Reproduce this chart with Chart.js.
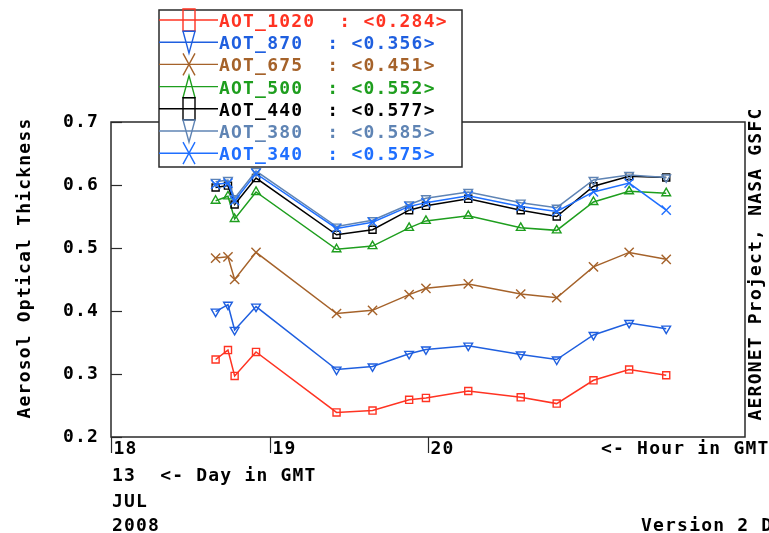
<!DOCTYPE html>
<html>
<head>
<meta charset="utf-8">
<script src="https://cdn.jsdelivr.net/npm/chart.js@4/dist/chart.umd.min.js"></script>
<style>
  html, body { margin: 0; padding: 0; background: #fff; }
  canvas { display: block; }
</style>
</head>
<body>
<canvas id="aot" width="769" height="533"></canvas>
<script>
// Observation times (hour of day, GMT) on 13 July 2008
const hours = [18.660, 18.738, 18.780, 18.915, 19.423, 19.650, 19.881, 19.987, 20.254, 20.585, 20.812, 21.044, 21.269, 21.503];

// Aerosol optical thickness per channel
const aot1020 = [0.323, 0.338, 0.297, 0.335, 0.239, 0.242, 0.259, 0.262, 0.273, 0.263, 0.253, 0.290, 0.307, 0.298];
const aot870  = [0.399, 0.410, 0.370, 0.407, 0.307, 0.312, 0.332, 0.339, 0.345, 0.331, 0.323, 0.362, 0.381, 0.372];
const aot675  = [0.484, 0.486, 0.450, 0.493, 0.396, 0.401, 0.426, 0.436, 0.443, 0.427, 0.421, 0.470, 0.493, 0.482];
const aot500  = [0.575, 0.582, 0.546, 0.589, 0.498, 0.503, 0.532, 0.543, 0.551, 0.532, 0.528, 0.573, 0.590, 0.587];
const aot440  = [0.596, 0.599, 0.569, 0.611, 0.521, 0.529, 0.560, 0.567, 0.578, 0.560, 0.550, 0.598, 0.614, 0.612];
const aot380  = [0.605, 0.608, 0.579, 0.622, 0.534, 0.544, 0.569, 0.579, 0.589, 0.572, 0.564, 0.608, 0.616, 0.612];
const aot340  = [0.601, 0.603, 0.575, 0.618, 0.531, 0.541, 0.566, 0.572, 0.583, 0.566, 0.558, 0.589, 0.603, 0.560];

const seriesNames = ['AOT_1020', 'AOT_870', 'AOT_675', 'AOT_500', 'AOT_440', 'AOT_380', 'AOT_340'];
const seriesValues = [aot1020, aot870, aot675, aot500, aot440, aot380, aot340];
// Daily means printed in the legend
const seriesMeans = ['0.284', '0.356', '0.451', '0.552', '0.577', '0.585', '0.575'];

// Axis ticks
const hourTicks = [18, 19, 20];
const aotTicks = [0.2, 0.3, 0.4, 0.5, 0.6, 0.7];
const dayLabel = '13';
const monthLabel = 'JUL';
const yearLabel = '2008';

// Appearance of each series
const seriesColors = ['#ff3322', '#1f5fdf', '#a5622a', '#1e9e1e', '#000000', '#5f84b4', '#1f6fff'];
const seriesMarkers = ['rect', 'triangle', 'crossRot', 'triangle', 'rect', 'triangle', 'crossRot'];
const markerRotation = [0, 180, 0, 0, 0, 180, 0];
const markerRadius = [5, 5, 6.5, 5, 5, 5, 6.5];

const FONT = 'bold 18px "DejaVu Sans Mono", "Liberation Mono", monospace';
const SPACING = '1.2px';

const datasets = seriesNames.map((name, i) => ({
  label: name,
  data: hours.map((h, k) => ({ x: h, y: seriesValues[i][k] })),
  borderColor: seriesColors[i],
  backgroundColor: 'rgba(0,0,0,0)',
  borderWidth: 1.5,
  pointStyle: seriesMarkers[i],
  pointRotation: markerRotation[i],
  pointRadius: markerRadius[i],
  pointBorderWidth: 1.4,
  pointBorderColor: seriesColors[i],
  pointBackgroundColor: 'rgba(0,0,0,0)',
  tension: 0,
  order: seriesNames.length - 1 - i
}));

function legendMark(ctx, kind, rot, cx, cy) {
  ctx.beginPath();
  if (kind === 'rect') {
    ctx.rect(cx - 6, cy - 11, 12, 22);
  } else if (kind === 'triangle' && rot === 180) {
    ctx.moveTo(cx - 6, cy - 11); ctx.lineTo(cx + 6, cy - 11); ctx.lineTo(cx, cy + 11); ctx.closePath();
  } else if (kind === 'triangle') {
    ctx.moveTo(cx - 6, cy + 11); ctx.lineTo(cx + 6, cy + 11); ctx.lineTo(cx, cy - 11); ctx.closePath();
  } else {
    ctx.moveTo(cx - 6, cy - 11); ctx.lineTo(cx + 6, cy + 11);
    ctx.moveTo(cx + 6, cy - 11); ctx.lineTo(cx - 6, cy + 11);
  }
  ctx.stroke();
}

const frame = {
  id: 'frame',
  beforeDraw(chart) { chart.ctx.letterSpacing = SPACING; },
  afterDraw(chart) {
    const { ctx, chartArea: a, scales } = chart;
    const xs = scales.x, ys = scales.y;
    ctx.save();
    ctx.letterSpacing = SPACING;

    // plot frame
    ctx.strokeStyle = '#2a2a2a';
    ctx.lineWidth = 1.5;
    ctx.strokeRect(a.left, a.top, a.right - a.left, a.bottom - a.top);

    // inward ticks on the value axis
    ctx.lineWidth = 1.2;
    ys.ticks.forEach(t => {
      const py = Math.round(ys.getPixelForValue(t.value)) + 0.5;
      ctx.beginPath(); ctx.moveTo(a.left, py); ctx.lineTo(a.left + 11, py); ctx.stroke();
    });

    // hour ticks hanging below the axis, labels beside them
    ctx.font = FONT;
    ctx.fillStyle = '#000';
    ctx.textAlign = 'left';
    ctx.textBaseline = 'alphabetic';
    xs.ticks.forEach(t => {
      const px = Math.round(xs.getPixelForValue(t.value)) + 0.5;
      ctx.beginPath(); ctx.moveTo(px, a.bottom); ctx.lineTo(px, a.bottom + 16); ctx.stroke();
      ctx.fillText(String(t.value), px + 2, a.bottom + 17);
    });
    ctx.fillText('<- Hour in GMT', 601, a.bottom + 17);
    ctx.fillText(dayLabel + '  <- Day in GMT', a.left + 1, 481);
    ctx.fillText(monthLabel, a.left + 1, 507);
    ctx.fillText(yearLabel, a.left + 1, 531);
    ctx.fillText('Version 2 D', 641, 531);

    // vertical titles
    ctx.textAlign = 'center';
    ctx.save();
    ctx.translate(30, 268);
    ctx.rotate(-Math.PI / 2);
    ctx.fillText('Aerosol Optical Thickness', 0, 0);
    ctx.restore();
    ctx.save();
    ctx.translate(761, 264);
    ctx.rotate(-Math.PI / 2);
    ctx.fillText('AERONET Project, NASA GSFC', 0, 0);
    ctx.restore();

    // legend box
    const bx = 159, by = 10, bw = 303, bh = 157;
    ctx.fillStyle = '#fff';
    ctx.fillRect(bx, by, bw, bh);
    ctx.strokeStyle = '#2a2a2a';
    ctx.lineWidth = 1.5;
    ctx.strokeRect(bx, by, bw, bh);
    ctx.textAlign = 'left';
    chart.data.datasets.forEach((ds, i) => {
      const ry = 20 + i * 22.2;
      ctx.strokeStyle = ds.borderColor;
      ctx.lineWidth = 1.4;
      ctx.beginPath(); ctx.moveTo(bx, ry); ctx.lineTo(218, ry); ctx.stroke();
      legendMark(ctx, ds.pointStyle, ds.pointRotation, 189, ry);
      ctx.fillStyle = ds.borderColor;
      ctx.fillText(ds.label + '  : <' + seriesMeans[i] + '>', 219, ry + 7);
    });
    ctx.restore();
  }
};

new Chart(document.getElementById('aot'), {
  type: 'line',
  data: { datasets },
  options: {
    responsive: false,
    devicePixelRatio: 1,
    animation: false,
    layout: { padding: { top: 122, right: 24, bottom: 0, left: 0 } },
    plugins: { legend: { display: false }, tooltip: { enabled: false } },
    scales: {
      x: {
        type: 'linear',
        min: 18, max: 22,
        afterBuildTicks: s => { s.ticks = hourTicks.map(v => ({ value: v })); },
        afterFit: s => { s.height = 96; },
        grid: { display: false },
        border: { display: false },
        ticks: { display: false }
      },
      y: {
        type: 'linear',
        min: 0.2, max: 0.7,
        afterBuildTicks: s => { s.ticks = aotTicks.map(v => ({ value: v })); },
        afterFit: s => { s.width = 111; },
        grid: { display: false },
        border: { display: false },
        ticks: {
          color: '#000',
          padding: 4,
          font: { family: '"DejaVu Sans Mono", "Liberation Mono", monospace', size: 18, weight: 'bold' },
          callback: v => v.toFixed(1)
        }
      }
    }
  },
  plugins: [frame]
});
</script>
</body>
</html>
